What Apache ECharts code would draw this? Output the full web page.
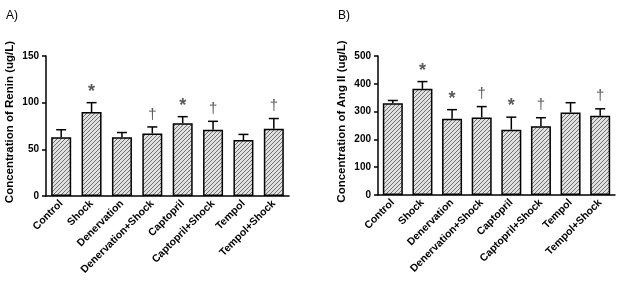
<!DOCTYPE html>
<html><head><meta charset="utf-8">
<script src="https://cdn.jsdelivr.net/npm/echarts@6/dist/echarts.min.js"></script>
<style>html,body{margin:0;padding:0;background:#fff}#c{width:620px;height:284px}</style>
</head><body><div id="c"></div>
<script>
const categories = ['Control','Shock','Denervation','Denervation+Shock','Captopril','Captopril+Shock','Tempol','Tempol+Shock'];
const reninMean = [63, 90, 63, 67, 78, 71, 60, 72];
const reninErr  = [8, 10, 5, 7, 7, 9, 6, 11];
const reninMarks = ['', '*', '', '†', '*', '†', '', '†'];
const angMean = [330, 382, 274, 279, 235, 247, 297, 285];
const angErr  = [10, 26, 33, 39, 45, 31, 35, 25];
const angMarks = ['', '*', '*', '†', '*', '†', '', '†'];
const reninTicks = {min: 0, max: 150, interval: 50};
const angTicks = {min: 0, max: 500, interval: 100};

function hatch() {
  const s = 4, c = document.createElement('canvas');
  c.width = s; c.height = s;
  const g = c.getContext('2d');
  g.fillStyle = '#e0e0e0'; g.fillRect(0, 0, s, s);
  g.strokeStyle = '#707070'; g.lineWidth = 1;
  g.beginPath();
  g.moveTo(-1, s + 1); g.lineTo(s + 1, -1);
  g.moveTo(-1, 1); g.lineTo(1, -1);
  g.moveTo(s - 1, s + 1); g.lineTo(s + 1, s - 1);
  g.stroke();
  return c;
}
const pat = {image: hatch(), repeat: 'repeat'};
const FONT = 'Liberation Sans, Arial, sans-serif';

function xAxis(gi) {
  return {
    type: 'category', gridIndex: gi, data: categories,
    axisLine: {lineStyle: {color: '#000', width: 1.5}},
    axisTick: {alignWithLabel: true, length: 4, lineStyle: {color: '#000', width: 1.5}},
    axisLabel: {rotate: 45, interval: 0, fontSize: 10.5, fontWeight: 'bold', color: '#000', fontFamily: FONT, margin: 6}
  };
}
function yAxis(gi, t, name) {
  return {
    type: 'value', gridIndex: gi, min: t.min, max: t.max, interval: t.interval,
    name: name, nameLocation: 'middle', nameGap: 30,
    nameTextStyle: {fontSize: 11.5, fontWeight: 'bold', color: '#000', fontFamily: FONT, padding: [0, 0, 0, 8]},
    splitLine: {show: false},
    axisLine: {show: true, lineStyle: {color: '#000', width: 1.5}},
    axisTick: {show: true, length: 4, lineStyle: {color: '#000', width: 1.5}},
    axisLabel: {fontSize: 10, fontWeight: 'bold', color: '#000', fontFamily: FONT, margin: 7}
  };
}
function bars(gi, vals) {
  return {
    type: 'bar', xAxisIndex: gi, yAxisIndex: gi, data: vals, barWidth: 20, z: 2,
    itemStyle: {color: pat, borderColor: '#000', borderWidth: 1.5}
  };
}
function errs(gi, mean, err) {
  return {
    type: 'custom', xAxisIndex: gi, yAxisIndex: gi, z: 1,
    data: mean.map((m, i) => [i, m, err[i]]),
    renderItem: function (params, api) {
      const i = api.value(0), m = api.value(1), e = api.value(2);
      const b = api.coord([i, m]), t = api.coord([i, m + e]);
      const st = {stroke: '#000', lineWidth: 1.5};
      return {type: 'group', children: [
        {type: 'line', shape: {x1: b[0], y1: b[1], x2: t[0], y2: t[1]}, style: st},
        {type: 'line', shape: {x1: t[0] - 5, y1: t[1], x2: t[0] + 5, y2: t[1]}, style: st}
      ]};
    }
  };
}
function marks(gi, mean, err, mk) {
  return {
    type: 'custom', xAxisIndex: gi, yAxisIndex: gi, z: 3,
    data: mean.map((m, i) => [i, m + err[i], mk[i]]),
    renderItem: function (params, api) {
      const i = api.value(0), top = api.value(1);
      const s = mk[params.dataIndex];
      if (!s) return null;
      const p = api.coord([i, top]);
      const star = s === '*';
      return {type: 'text', style: {
        text: s, x: p[0], y: p[1] - (star ? 2 : 5),
        align: 'center', verticalAlign: 'bottom',
        fontSize: star ? 18 : 15, fontWeight: star ? 'bold' : 'normal',
        fill: '#5a5a5a', fontFamily: FONT
      }};
    }
  };
}

const chart = echarts.init(document.getElementById('c'), null, {renderer: 'canvas'});
chart.setOption({
  animation: false,
  backgroundColor: '#fff',
  title: [
    {text: 'A)', left: 1, top: 5, textStyle: {fontSize: 12, fontWeight: 'normal', color: '#000', fontFamily: FONT}},
    {text: 'B)', left: 333, top: 5, textStyle: {fontSize: 12, fontWeight: 'normal', color: '#000', fontFamily: FONT}}
  ],
  grid: [
    {left: 46, top: 56, width: 243, height: 140},
    {left: 378, top: 56, width: 237, height: 139}
  ],
  xAxis: [xAxis(0), xAxis(1)],
  yAxis: [yAxis(0, reninTicks, 'Concentration of Renin (ug/L)'), yAxis(1, angTicks, 'Concentration of Ang II (ug/L)')],
  series: [
    bars(0, reninMean), errs(0, reninMean, reninErr), marks(0, reninMean, reninErr, reninMarks),
    bars(1, angMean), errs(1, angMean, angErr), marks(1, angMean, angErr, angMarks)
  ]
});
</script></body></html>
